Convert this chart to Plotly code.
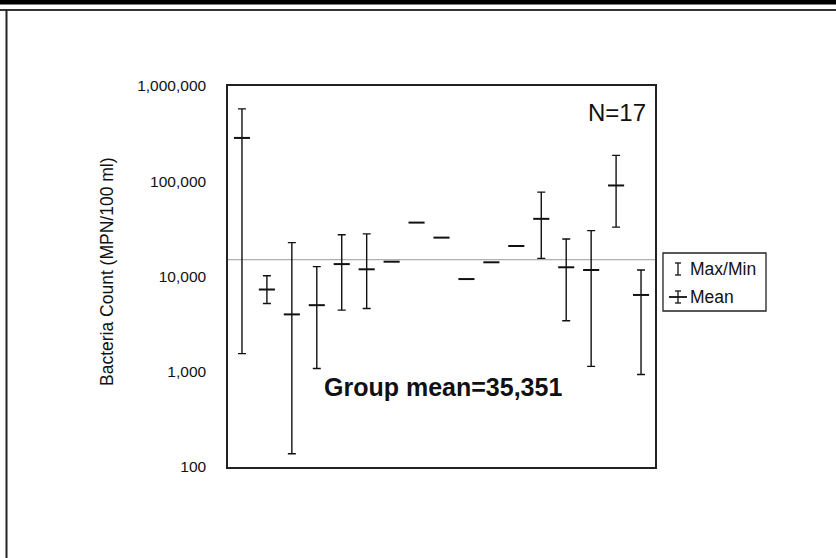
import plotly.graph_objects as go

# per-site bacteria counts (MPN/100 ml)
sites = list(range(1, 18))
mean_vals = [285000, 7300, 4000, 5000, 13500, 11900, 14300, 36800, 25600,
             9400, 14100, 20900, 40300, 12500, 11700, 90300, 6400]
max_vals = [575000, 10200, 22700, 12700, 27400, 28000, None, None, None,
            None, None, None, 76900, 24800, 30300, 187000, 11700]
min_vals = [1550, 5200, 138, 1080, 4440, 4620, None, None, None,
            None, None, None, 15500, 3430, 1140, 33000, 935]
group_line = 15000

tick_vals = [100, 1000, 10000, 100000, 1000000]
tick_text = ["100", "1,000", "10,000", "100,000", "1,000,000"]

FONT = "Liberation Sans, Arial, sans-serif"
W, H = 836, 558
L, R, T, B = 228, 655, 86, 467   # plot area in pixels


def px(x):
    return (x - L) / (R - L)


def py(y):
    return (B - y) / (B - T)


fig = go.Figure()

# grey reference line across the plot
fig.add_trace(go.Scatter(
    x=[0.44, 17.56], y=[group_line, group_line], mode="lines",
    line=dict(color="#9a9a9a", width=1), hoverinfo="skip", showlegend=False,
))

# max/min bars, only for sites that have them
bx, by, up, dn = [], [], [], []
for s, m, hi, lo in zip(sites, mean_vals, max_vals, min_vals):
    if hi is None:
        continue
    bx.append(s)
    by.append(m)
    up.append(hi - m)
    dn.append(m - lo)

fig.add_trace(go.Scatter(
    x=bx, y=by, mode="markers",
    marker=dict(size=1, color="rgba(0,0,0,0)"),
    error_y=dict(type="data", symmetric=False, array=up, arrayminus=dn,
                 color="#111", thickness=1.4, width=4),
    showlegend=False, hoverinfo="skip",
))

# mean dashes
fig.add_trace(go.Scatter(
    x=sites, y=mean_vals, mode="markers",
    marker=dict(symbol="line-ew", size=11.5, line=dict(color="#111", width=2)),
    showlegend=False,
))

shapes = []
# page frame: black band, grey rule, left border
shapes.append(dict(type="rect", xref="paper", yref="paper",
                   x0=px(0), x1=px(W), y0=py(0), y1=py(4.5),
                   line=dict(width=0), fillcolor="black"))
shapes.append(dict(type="line", xref="paper", yref="paper",
                   x0=px(0), x1=px(W), y0=py(10), y1=py(10),
                   line=dict(color="#333", width=2)))
shapes.append(dict(type="line", xref="paper", yref="paper",
                   x0=px(6.5), x1=px(6.5), y0=py(10), y1=py(H),
                   line=dict(color="#222", width=2)))

# hand-drawn legend box
shapes.append(dict(type="rect", xref="paper", yref="paper",
                   x0=px(663), x1=px(766), y0=py(253), y1=py(311),
                   line=dict(color="#222", width=1.3)))
lk = dict(type="line", xref="paper", yref="paper", line=dict(color="#111", width=1.3))
# Max/Min icon
shapes.append(dict(lk, x0=px(678), x1=px(678), y0=py(263), y1=py(275)))
shapes.append(dict(lk, x0=px(675), x1=px(681), y0=py(263), y1=py(263)))
shapes.append(dict(lk, x0=px(675), x1=px(681), y0=py(275), y1=py(275)))
# Mean icon
shapes.append(dict(lk, x0=px(678), x1=px(678), y0=py(291), y1=py(303)))
shapes.append(dict(lk, x0=px(675), x1=px(681), y0=py(291), y1=py(291)))
shapes.append(dict(lk, x0=px(675), x1=px(681), y0=py(303), y1=py(303)))
shapes.append(dict(lk, x0=px(669), x1=px(687), y0=py(297), y1=py(297),
                   line=dict(color="#111", width=1.8)))

ann = dict(xref="paper", yref="paper", showarrow=False, xanchor="center", yanchor="middle")
annotations = [
    dict(ann, text="Bacteria Count (MPN/100 ml)", x=px(107), y=py(272), textangle=-90,
         font=dict(family=FONT, size=17.5, color="#111")),
    dict(ann, text="<b>Group mean=35,351</b>", x=px(443), y=py(387),
         font=dict(family=FONT, size=25, color="#111")),
    dict(ann, text="N=17", xanchor="right", x=px(648), y=py(112),
         font=dict(family=FONT, size=24, color="#111")),
    dict(ann, text="Max/Min", xanchor="left", x=px(688), y=py(269),
         font=dict(family=FONT, size=17.5, color="#111")),
    dict(ann, text="Mean", xanchor="left", x=px(688), y=py(297),
         font=dict(family=FONT, size=17.5, color="#111")),
]

fig.update_layout(
    width=W, height=H, autosize=False,
    margin=dict(l=L, r=W - R, t=T, b=H - B),
    paper_bgcolor="white", plot_bgcolor="white",
    font=dict(family=FONT, color="#111"),
    shapes=shapes, annotations=annotations,
    showlegend=False,
    xaxis=dict(range=[0.44, 17.56], showgrid=False, zeroline=False,
               showticklabels=False, ticks="", showline=True, mirror=True,
               linecolor="#222", linewidth=1.5),
    yaxis=dict(type="log", range=[2, 6], showgrid=False, zeroline=False,
               tickvals=tick_vals, ticktext=tick_text, ticks="",
               ticklabelstandoff=17, tickfont=dict(family=FONT, size=15.5, color="#111"),
               showline=True, mirror=True, linecolor="#222", linewidth=1.5),
)

# drop the browser's default body margin so the figure sits at 0,0
fig.write_html("out.html", config={"displayModeBar": False},
               post_script="document.body.style.margin='0';document.body.style.overflow='hidden';")
